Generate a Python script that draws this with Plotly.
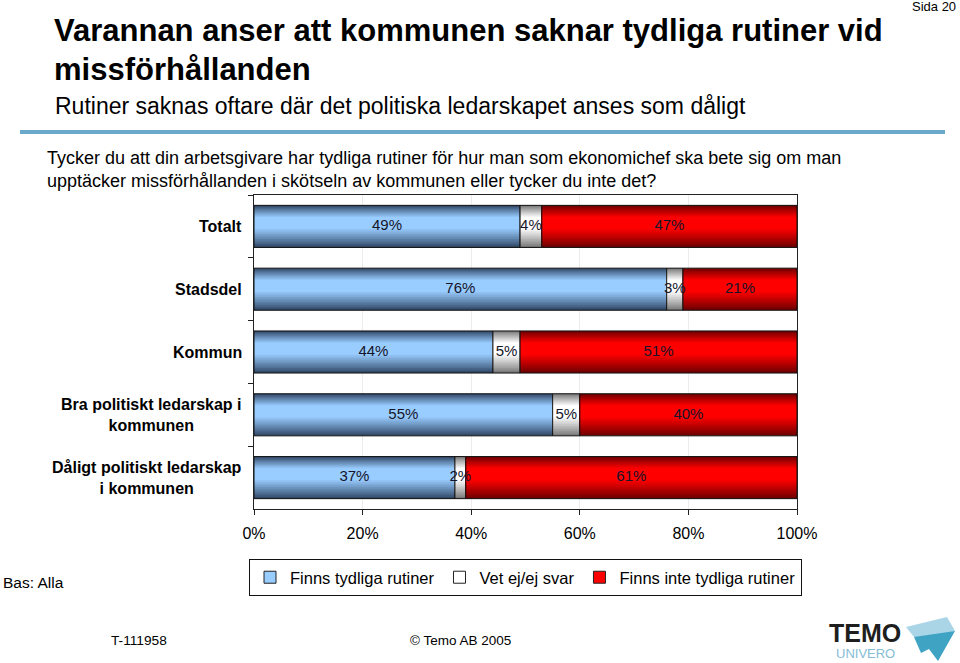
import plotly.graph_objects as go

# ---------------- data ----------------
categories = ["Totalt", "Stadsdel", "Kommun",
              "Bra politiskt ledarskap i<br>kommunen",
              "Dåligt politiskt ledarskap<br>i kommunen"]
series_names = ["Finns tydliga rutiner", "Vet ej/ej svar", "Finns inte tydliga rutiner"]
finns = [49, 76, 44, 55, 37]
vet_ej = [4, 3, 5, 5, 2]
finns_inte = [47, 21, 51, 40, 61]
x_ticks = [0, 20, 40, 60, 80, 100]

series_values = [finns, vet_ej, finns_inte]
edge_colors = [(48, 72, 102), (120, 120, 120), (110, 0, 0)]
center_colors = [(153, 204, 255), (255, 255, 255), (255, 0, 0)]

FONT = "Arial, Liberation Sans, Helvetica, sans-serif"

# plot area in pixels
L, R, T, B = 254, 797, 195, 509
def px(x):
    return (x - L) / (R - L)
def py(y):
    return (B - y) / (B - T)

fig = go.Figure()

W = 0.67
N = 12
cum = [0] * len(categories)
bases = []
for s, vals in enumerate(series_values):
    base = cum[:]
    bases.append(base)
    e, c = edge_colors[s], center_colors[s]
    for k in range(N):
        f = k / N
        t = (k / (N - 1)) ** 0.9
        col = "rgb({},{},{})".format(*[round(e[i] + (c[i] - e[i]) * t) for i in range(3)])
        a = f * 0.5 * W * 0.6
        b = f * 0.5 * W * 0.95
        fig.add_trace(go.Bar(
            y=categories, x=vals, base=base, orientation="h",
            width=W - a - b, offset=-W / 2 + a,
            marker=dict(color=col, line=dict(width=0)),
            showlegend=False, hoverinfo="skip"))
    # outline
    fig.add_trace(go.Bar(
        y=categories, x=vals, base=base, orientation="h",
        width=W, offset=-W / 2,
        marker=dict(color="rgba(0,0,0,0)", line=dict(color="#111111", width=1)),
        showlegend=False, hoverinfo="skip"))
    cum = [cum[i] + vals[i] for i in range(len(vals))]

# legend entries
for s, name in enumerate(series_names):
    c = center_colors[s]
    fig.add_trace(go.Bar(
        y=[None], x=[None], orientation="h", name=name,
        marker=dict(color="rgb({},{},{})".format(*c), line=dict(color="#222222", width=1)),
        showlegend=True, hoverinfo="skip"))

# value labels
for s, vals in enumerate(series_values):
    fig.add_trace(go.Scatter(
        y=categories, x=[bases[s][i] + vals[i] / 2 for i in range(len(vals))],
        mode="text", text=[f"{v}%" for v in vals],
        textfont=dict(family=FONT, size=15, color="#15152a"),
        showlegend=False, hoverinfo="skip", cliponaxis=False))

ann = []
def add_text(text, x, y, size, xanchor="left", yanchor="middle", color="black", align="left"):
    ann.append(dict(text=text, x=px(x), y=py(y), xref="paper", yref="paper",
                    xanchor=xanchor, yanchor=yanchor, showarrow=False, align=align,
                    font=dict(family=FONT, size=size, color=color)))

add_text("<b>Varannan anser att kommunen saknar tydliga rutiner vid</b>", 52, 31, 31)
add_text("<b>missförhållanden</b>", 52, 69, 31)
add_text("Rutiner saknas oftare där det politiska ledarskapet anses som dåligt", 53, 106, 23)
add_text("Tycker du att din arbetsgivare har tydliga rutiner för hur man som ekonomichef ska bete sig om man", 45, 158, 18)
add_text("upptäcker missförhållanden i skötseln av kommunen eller tycker du inte det?", 45, 181, 18)
add_text("Sida 20", 958, 6, 13, xanchor="right")
add_text("Bas: Alla", 1, 582, 15.5)
add_text("T-111958", 109, 640, 13.7)
add_text("© Temo AB 2005", 408, 640, 13.5)
add_text("<b>TEMO</b>", 865, 633, 25, xanchor="center", color="#1e1e1e")
add_text("UNIVERO", 865, 653, 13, xanchor="center", color="#86bcd6")

# category labels
for cat in categories:
    ann.append(dict(text=f"<b>{cat}</b>", x=px(244), y=cat, xref="paper", yref="y",
                    xanchor="right", yanchor="middle", showarrow=False, align="center",
                    font=dict(family=FONT, size=16, color="black")))

def path(points):
    pts = [(px(x), py(y)) for x, y in points]
    return "M" + " L".join(f"{a},{b}" for a, b in pts) + " Z"

shapes = [
    dict(type="line", xref="paper", yref="paper", x0=px(20), x1=px(945), y0=py(132), y1=py(132),
         line=dict(color="#6ba9cc", width=4)),
    dict(type="path", xref="paper", yref="paper",
         path=path([(906, 627), (947, 617), (955, 631), (932, 637), (914, 637)]),
         fillcolor="#a9d5e7", line=dict(width=0)),
    dict(type="path", xref="paper", yref="paper",
         path=path([(914, 637), (955, 631), (938, 661), (929, 649), (921, 653)]),
         fillcolor="#3fa3c4", line=dict(width=0)),
]

fig.update_layout(
    width=960, height=663, autosize=False,
    margin=dict(l=L, r=960 - R, t=T, b=663 - B),
    paper_bgcolor="white", plot_bgcolor="white",
    barmode="overlay", bargap=0.33,
    font=dict(family=FONT, size=15, color="black"),
    xaxis=dict(range=[0, 100], tickvals=x_ticks, ticktext=[f"{v}%" for v in x_ticks],
               showgrid=True, gridcolor="#ececec", gridwidth=1,
               showline=True, linecolor="#222222", linewidth=1, mirror=True,
               ticks="outside", ticklen=5, tickcolor="#222222",
               tickfont=dict(family=FONT, size=16, color="black"),
               ticklabelstandoff=5, zeroline=False, fixedrange=True),
    yaxis=dict(autorange="reversed", showticklabels=False, tickson="boundaries",
               ticks="outside", ticklen=5, tickcolor="#222222",
               showline=True, linecolor="#222222", linewidth=1, mirror=True,
               showgrid=False, zeroline=False, fixedrange=True),
    legend=dict(orientation="h", x=px(249), xanchor="left", y=py(559), yanchor="top",
                bordercolor="#111111", borderwidth=1, bgcolor="white",
                font=dict(family=FONT, size=16.5, color="black"), traceorder="normal",
                itemwidth=30),
    annotations=ann, shapes=shapes,
)

fig.write_html("out.html", config={"displayModeBar": False},
               post_script="document.body.style.margin='0px';")
